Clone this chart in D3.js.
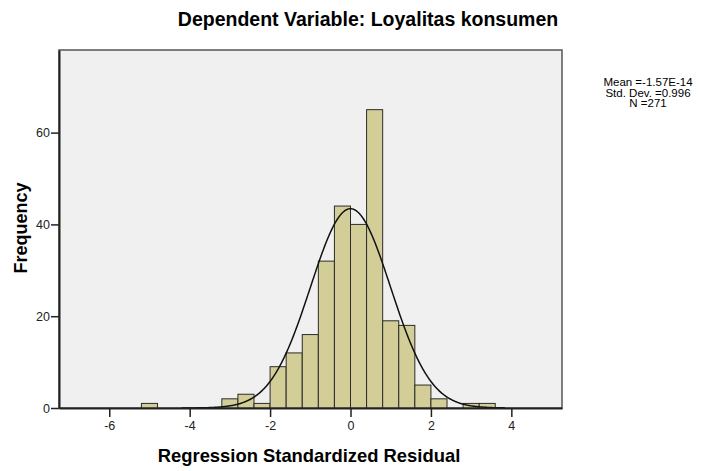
<!DOCTYPE html>
<html>
<head>
<meta charset="utf-8">
<script src="https://cdn.jsdelivr.net/npm/d3@7"></script>
<style>
  body { margin: 0; background: #fff; }
  text { font-family: "Liberation Sans", Arial, sans-serif; }
</style>
</head>
<body>
<div class="content"></div>
<script>
// histogram bins (left edge, width 0.4) and their counts
var binLeft = [-5.2, -3.2, -2.8, -2.4, -2.0, -1.6, -1.2, -0.8, -0.4, 0.0, 0.4, 0.8, 1.2, 1.6, 2.0, 2.8, 3.2];
var counts  = [1, 2, 3, 1, 9, 12, 16, 32, 44, 40, 65, 19, 18, 5, 2, 1, 1];
var binWidth = 0.4;

var xTicks = [-6, -4, -2, 0, 2, 4];
var yTicks = [0, 20, 40, 60];

var mean = -1.57e-14, stdDev = 0.996, n = 271;
var statLines = ["Mean =-1.57E-14", "Std. Dev. =0.996", "N =271"];

var width = 705, height = 471;
var plotLeft = 59, plotRight = 562, plotTop = 50, plotBottom = 408;

var svg = d3.select(".content")
  .append("svg")
  .attr("width", width)
  .attr("height", height)

var x = d3.scaleLinear().domain([-7.25, 5.26]).range([plotLeft, plotRight]);
var y = d3.scaleLinear().domain([0, 78]).range([plotBottom, plotTop]);

// plot background
svg.append("rect")
  .attr("x", plotLeft).attr("y", plotTop)
  .attr("width", plotRight - plotLeft).attr("height", plotBottom - plotTop)
  .attr("fill", "#f0f0f0")
  .attr("stroke", "#555")
  .attr("stroke-width", 1.5)

// bars
svg.selectAll("rect.bar")
  .data(binLeft)
  .enter()
  .append("rect").attr("class", "bar")
  .attr("x", function(d) { return x(d); })
  .attr("width", function(d) { return x(d + binWidth) - x(d); })
  .attr("y", function(d, i) { return y(counts[i]); })
  .attr("height", function(d, i) { return y(0) - y(counts[i]); })
  .attr("fill", "#d3ce97")
  .attr("stroke", "#2b2b2b")
  .attr("stroke-width", 1)

// normal curve from the stated mean / sd
var curveX = d3.range(-4.2, 3.85, 0.02);
var scaleK = n * binWidth / (stdDev * Math.sqrt(2 * Math.PI));
var line = d3.line()
  .x(function(d) { return x(d); })
  .y(function(d) { return y(scaleK * Math.exp(-0.5 * Math.pow((d - mean) / stdDev, 2))); });

svg.append("path")
  .datum(curveX)
  .attr("d", line)
  .attr("fill", "none")
  .attr("stroke", "#111")
  .attr("stroke-width", 1.5)

// axes
var fmt = function(d) { return String(d); };
var xAxis = d3.axisBottom(x).tickValues(xTicks).tickFormat(fmt).tickSize(9).tickSizeOuter(0).tickPadding(4);
var gx = svg.append("g").attr("transform", "translate(0," + plotBottom + ")").call(xAxis);
gx.select(".domain").attr("stroke", "#222").attr("stroke-width", 2);

var yAxis = d3.axisLeft(y).tickValues(yTicks).tickFormat(fmt).tickSize(8).tickSizeOuter(0).tickPadding(1);
var gy = svg.append("g").attr("transform", "translate(" + plotLeft + ",0)").call(yAxis);
gy.select(".domain").attr("stroke", "#222").attr("stroke-width", 2);

svg.selectAll(".tick line").attr("stroke", "#222").attr("stroke-width", 1.5);
svg.selectAll(".tick text")
  .style("font-size", "12.5px")
  .attr("fill", "#222")
  .style("font-family", "'Liberation Sans', Arial, sans-serif");

// titles
svg.append("text")
  .text("Dependent Variable: Loyalitas konsumen")
  .attr("x", 368).attr("y", 26)
  .style("text-anchor", "middle")
  .style("font-size", "19.5px")
  .style("font-weight", "bold")

svg.append("text")
  .text("Regression Standardized Residual")
  .attr("x", 309).attr("y", 462)
  .style("text-anchor", "middle")
  .style("font-size", "18.4px")
  .style("font-weight", "bold")

svg.append("text")
  .text("Frequency")
  .attr("transform", "translate(27,228) rotate(-90)")
  .style("text-anchor", "middle")
  .style("font-size", "18px")
  .style("font-weight", "bold")

// stats box
svg.selectAll("text.stat")
  .data(statLines)
  .enter()
  .append("text").attr("class", "stat")
  .text(function(d) { return d; })
  .attr("x", 648)
  .attr("y", function(d, i) { return 86 + i * 10.5; })
  .style("text-anchor", "middle")
  .style("font-size", "11.5px")
</script>
</body>
</html>
